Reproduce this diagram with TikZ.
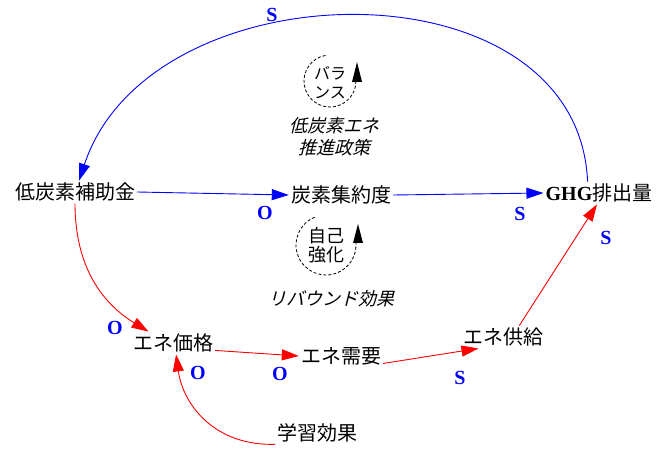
\documentclass[tikz,border=0pt]{standalone}
\usepackage{fontspec}
\setmainfont{Liberation Serif}
\newfontfamily\jp{Noto Sans CJK JP}
\newfontfamily\jpit{Noto Sans CJK JP}[FakeSlant=0.25]
\usetikzlibrary{arrows.meta}
\begin{document}
\begin{tikzpicture}[x=1pt,y=-1pt,
  vnode/.style={inner sep=2pt, font=\jp\fontsize{20}{22}\selectfont},
  loopname/.style={inner sep=0pt, font=\jpit\fontsize{18}{22}\selectfont, align=center},
  looptxt/.style={inner sep=0pt, font=\jp\fontsize{16}{19}\selectfont, align=center},
  lbl/.style={inner sep=0pt, text=blue, font=\fontsize{20}{22}\selectfont\bfseries},
  bl/.style={draw=blue, line width=0.9pt, -{Triangle[length=17pt,width=11pt]}},
  rd/.style={draw=red, line width=0.9pt, -{Triangle[length=17pt,width=11pt]}},
  loopc/.style={draw=black, line width=0.8pt, dash pattern=on 3pt off 2pt},
  looparr/.style={fill=black}]
\useasboundingbox (0,0) rectangle (672,454);

% variables
\node[vnode] (sub) at (75,192) {低炭素補助金};
\node[vnode] (carb) at (341,195) {炭素集約度};
\node[vnode] (ghg) at (599,193) {{\rmfamily\bfseries GHG}排出量};
\node[vnode] (price) at (173,343) {エネ価格};
\node[vnode] (dem) at (341,356) {エネ需要};
\node[vnode] (sup) at (503,337) {エネ供給};
\node[vnode] (learn) at (317,433) {学習効果};

% loop markers
\draw[loopc] (330,81) ++(-100:26) arc[start angle=-100, end angle=-360, radius=26];
\fill[looparr] (357,62) -- (362,82) -- (352,82) -- cycle;
\node[looptxt] (bal) at (330,83) {バラ\\ンス};
\node[loopname] (balname) at (334,137) {低炭素エネ\\推進政策};

\draw[loopc] (326,245) ++(-112:30) arc[start angle=-112, end angle=-364, radius=30];
\fill[looparr] (358,224) -- (363,243) -- (353,243) -- cycle;
\node[looptxt, font=\jp\fontsize{18}{19}\selectfont] (rein) at (326,245) {自己\\強化};
\node[loopname] (reinname) at (331,299) {リバウンド効果};

% connectors
\draw[bl] (ghg.135) .. controls (578,-42) and (150,-35) .. (sub.70);
\draw[bl] (sub.east) -- (carb.west);
\draw[bl] (carb.east) -- (ghg.west);
\draw[rd] (sub.south) .. controls (75,270) and (105,305) .. (price.155);
\draw[rd] (price.-10) -- (dem.west);
\draw[rd] (dem.-10) -- (sup.205);
\draw[rd] (sup.35) -- (ghg.260);
\draw[rd] (learn.195) .. controls (215,446) and (183,405) .. (price.-75);

% polarity labels
\node[lbl] (s1) at (272,15) {S};
\node[lbl] (o1) at (265,213) {O};
\node[lbl] (s2) at (520,214) {S};
\node[lbl] (s3) at (606,238) {S};
\node[lbl] (o2) at (115,328) {O};
\node[lbl] (o3) at (198,373) {O};
\node[lbl] (o4) at (280,374) {O};
\node[lbl] (s4) at (460,378) {S};
\end{tikzpicture}
\end{document}
